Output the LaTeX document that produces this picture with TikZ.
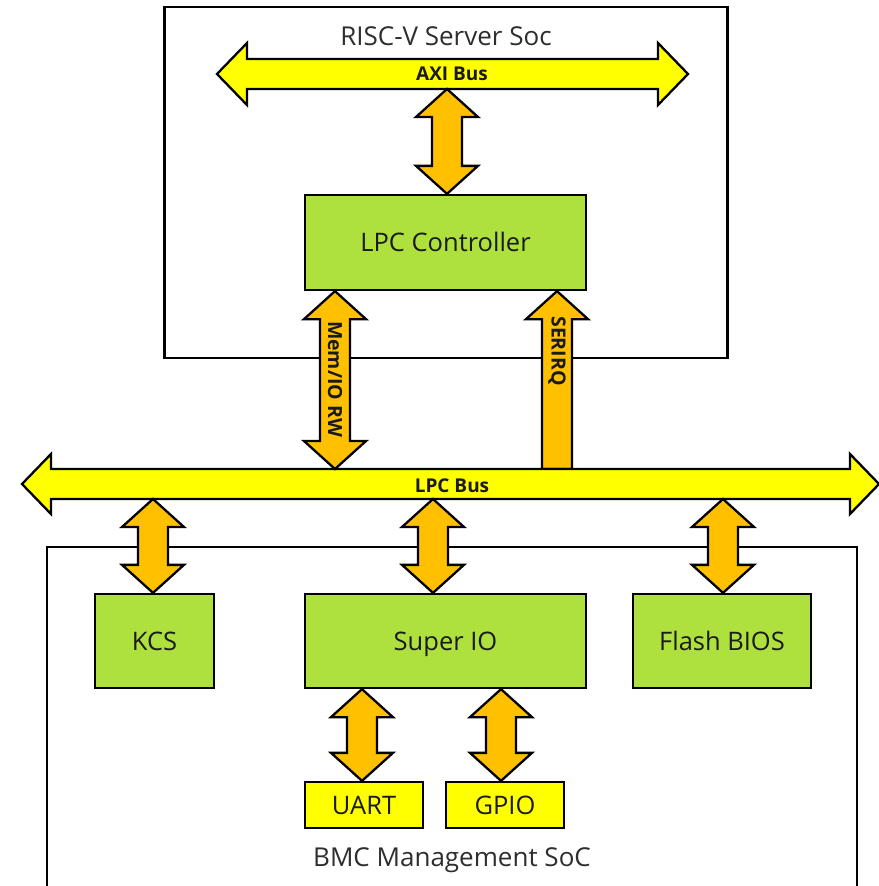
\documentclass[tikz,border=0pt]{standalone}
\usepackage{fontspec}
\setmainfont{Open Sans}
\usetikzlibrary{calc}

\definecolor{boxgreen}{HTML}{AEE03E}
\definecolor{linkorange}{HTML}{FFC000}
\definecolor{busyellow}{HTML}{FFFF00}
\definecolor{labelgray}{HTML}{2E2E2E}
\definecolor{textdark}{HTML}{1A1A1A}

% double-headed vertical block arrow from #1 (top tip) down to #2 (bottom tip)
\newcommand\vlink[2]{%
  \draw[linkarrow] let \p1=(#1), \p2=(#2) in
    (\x1,\y1) -- (\x1+31pt,\y1-28pt) -- (\x1+15pt,\y1-28pt)
    -- (\x1+15pt,\y2+28pt) -- (\x1+31pt,\y2+28pt) -- (\x1,\y2)
    -- (\x1-31pt,\y2+28pt) -- (\x1-15pt,\y2+28pt)
    -- (\x1-15pt,\y1-28pt) -- (\x1-31pt,\y1-28pt) -- cycle;}

% single-headed vertical block arrow, tip at #1, flat end at #2
\newcommand\vsingle[2]{%
  \draw[linkarrow] let \p1=(#1), \p2=(#2) in
    (\x1,\y1) -- (\x1+31pt,\y1-28pt) -- (\x1+15pt,\y1-28pt)
    -- (\x1+15pt,\y2) -- (\x1-15pt,\y2)
    -- (\x1-15pt,\y1-28pt) -- (\x1-31pt,\y1-28pt) -- cycle;}

% horizontal double-headed bus between tips #1 and #2
% #3 head length, #4 shaft half height, #5 head half height
\newcommand\hbus[5]{%
  \draw[busarrow] let \p1=(#1), \p2=(#2) in
    (\x1,\y1) -- (\x1+#3,\y1+#5) -- (\x1+#3,\y1+#4) -- (\x2-#3,\y1+#4)
    -- (\x2-#3,\y1+#5) -- (\x2,\y1) -- (\x2-#3,\y1-#5) -- (\x2-#3,\y1-#4)
    -- (\x1+#3,\y1-#4) -- (\x1+#3,\y1-#5) -- cycle;}

\begin{document}
\begin{tikzpicture}[x=1pt,y=-1pt,
  outline/.style={draw=black,line width=2.3pt},
  block/.style={outline,fill=boxgreen,inner sep=0pt,text=textdark,
    text height=18pt,text depth=0pt,font=\fontsize{25.5}{28}\selectfont},
  smallblock/.style={outline,fill=busyellow,inner sep=0pt,text=textdark,
    text height=18pt,text depth=0pt,
    minimum width=118,minimum height=46,font=\fontsize{25.5}{28}\selectfont},
  linkarrow/.style={outline,fill=linkorange,line join=miter},
  busarrow/.style={outline,fill=busyellow,line join=miter},
  buslabel/.style={font=\bfseries\fontsize{19}{21}\selectfont,text=textdark},
  linklabel/.style={font=\bfseries\fontsize{19.5}{21}\selectfont,text=textdark,rotate=-90},
  title/.style={font=\fontsize{26}{29}\selectfont,text=labelgray}]

\useasboundingbox (0,0) rectangle (878,886);
\fill[white] (0,0) rectangle (878,886);

% RISC-V server SoC frame
\node[outline,minimum width=563,minimum height=351,inner sep=0pt] (server) at (446,182.5) {};
\node[title] (servertitle) at (446,36) {RISC-V Server Soc};

% BMC management SoC frame (open below the page edge)
\coordinate (bmcBL) at (47,890);
\coordinate (bmcTR) at (857,547);
\draw[outline] (bmcBL) |- (bmcTR) -- (bmcTR |- bmcBL);
\node[title] (bmctitle) at (452,860) {BMC Management SoC};

% blocks
\node[block,minimum width=281,minimum height=95] (lpcc) at (445.5,242.5) {LPC Controller};
\node[block,minimum width=119,minimum height=94] (kcs) at (154.5,641) {KCS};
\node[block,minimum width=281,minimum height=94] (sio) at (445.5,641) {Super IO};
\node[block,minimum width=178,minimum height=94] (bios) at (722,641) {Flash BIOS};
\node[smallblock] (uart) at (364,805) {UART};
\node[smallblock] (gpio) at (505,805) {GPIO};

% bus tips and shaft attachment points
\coordinate (axiL) at (217,74);
\coordinate (axiR) at (688,74);
\coordinate (axiDrop) at (447,89);
\coordinate (lpcL) at (22,484);
\coordinate (lpcR) at (879,484);
\coordinate (lpcTop) at (445,469);
\coordinate (lpcBot) at (445,499);
\coordinate (memx) at (335,0);
\coordinate (irqx) at (557,0);
\coordinate (kcsx) at (153,0);
\coordinate (siox) at (433,0);
\coordinate (biosx) at (723,0);
\coordinate (uartx) at (362,0);
\coordinate (gpiox) at (501,0);

% SERIRQ line from the LPC bus up to the controller
\vsingle{irqx |- lpcc.south}{irqx |- lpcTop}

% buses
\hbus{axiL}{axiR}{30pt}{15pt}{31pt}
\node[buslabel] (axilabel) at (452,74) {AXI Bus};
\hbus{lpcL}{lpcR}{29pt}{15pt}{30pt}
\node[buslabel] (lpclabel) at (452,486) {LPC Bus};

% links
\vlink{axiDrop}{axiDrop |- lpcc.north}
\vlink{memx |- lpcc.south}{memx |- lpcTop}
\vlink{kcsx |- lpcBot}{kcsx |- kcs.north}
\vlink{siox |- lpcBot}{siox |- sio.north}
\vlink{biosx |- lpcBot}{biosx |- bios.north}
\vlink{uartx |- sio.south}{uartx |- uart.north}
\vlink{gpiox |- sio.south}{gpiox |- gpio.north}

\node[linklabel] (memlabel) at (335,379) {Mem/IO RW};
\node[linklabel] (irqlabel) at (557,351) {SERIRQ};
\end{tikzpicture}
\end{document}
